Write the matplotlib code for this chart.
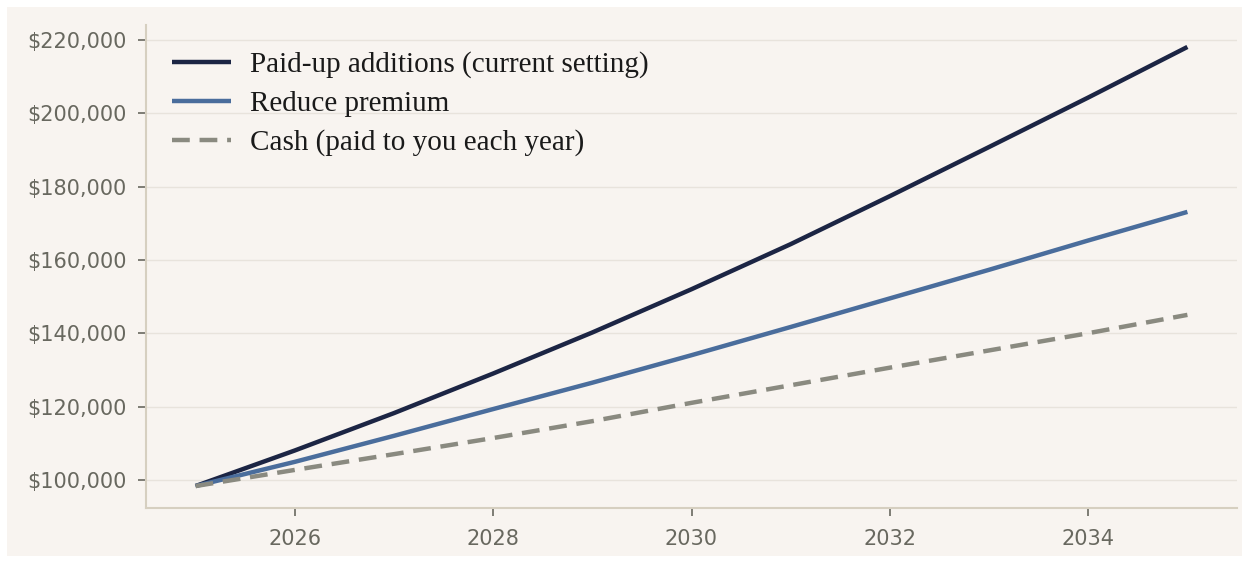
import matplotlib.pyplot as plt
from matplotlib.patches import Rectangle
from matplotlib.ticker import FuncFormatter

years = [2025, 2026, 2027, 2028, 2029, 2030, 2031, 2032, 2033, 2034, 2035]
paid_up = [98300, 108000, 118200, 129000, 140200, 152000, 164300, 177400, 190800, 204300, 218100]
reduce_premium = [98300, 104900, 112000, 119300, 126500, 134000, 141700, 149500, 157300, 165300, 173100]
cash = [98300, 102700, 107000, 111400, 116000, 121000, 125800, 130600, 135300, 140000, 145000]

labels = ['Paid-up additions (current setting)', 'Reduce premium', 'Cash (paid to you each year)']

bg = '#f8f4f0'
fig = plt.figure(figsize=(12.49, 5.63), dpi=100, facecolor='white')
fig.patches.append(Rectangle((7 / 1249, 7 / 563), 1235 / 1249, 549 / 563,
                             transform=fig.transFigure, facecolor=bg, edgecolor='none', zorder=-10))
ax = fig.add_axes([146 / 1249, 1 - 508 / 563, (1237 - 146) / 1249, (508 - 25) / 563])
ax.set_facecolor(bg)

ax.plot(years, paid_up, color='#1c2544', lw=3.2, label=labels[0], solid_capstyle='butt')
ax.plot(years, reduce_premium, color='#4a6d9c', lw=3.2, label=labels[1], solid_capstyle='butt')
ax.plot(years, cash, color='#8a8a80', lw=3.2, ls=(0, (4, 2.2)), label=labels[2])

ax.yaxis.set_major_formatter(FuncFormatter(lambda x, p: f'${x:,.0f}'))
ax.set_xticks([2026, 2028, 2030, 2032, 2034])
ax.set_yticks(range(100000, 220001, 20000))

ax.grid(axis='y', color='#e8e3dc', lw=1)
ax.set_axisbelow(True)
for s in ['top', 'right']:
    ax.spines[s].set_visible(False)
for s in ['left', 'bottom']:
    ax.spines[s].set_color('#d6cfc0')
    ax.spines[s].set_linewidth(1.5)
ax.tick_params(colors='#68685f', labelsize=15, length=6, width=1.2, pad=8)
ax.tick_params(axis='x', pad=9)

leg = ax.legend(loc='upper left', frameon=False, handlelength=2.0, handletextpad=0.65,
                prop={'family': 'Liberation Serif', 'size': 21},
                labelspacing=0.42, borderaxespad=0.5)
for t in leg.get_texts():
    t.set_color('#1a1a1a')

fig.savefig('out.png', dpi=100, facecolor='white')
